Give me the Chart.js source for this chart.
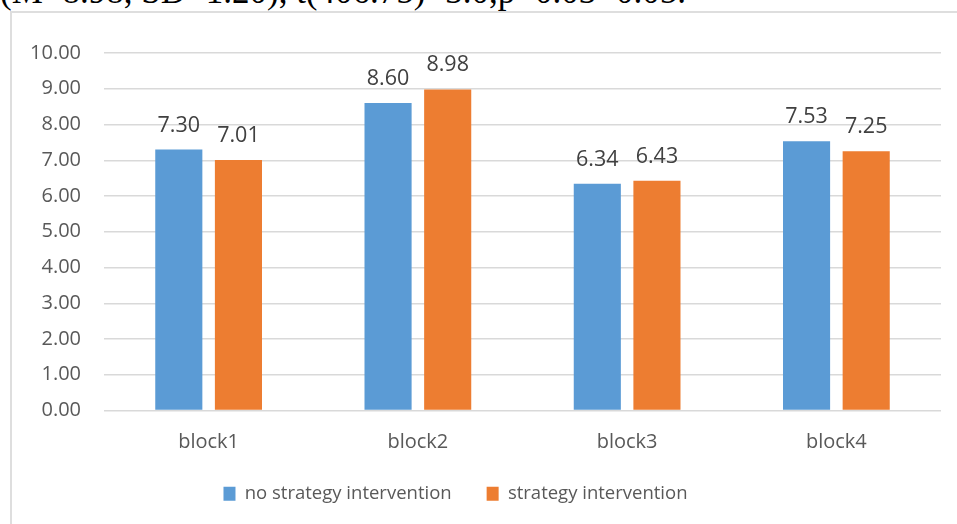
<!DOCTYPE html>
<html>
<head>
<meta charset="utf-8">
<script src="https://cdn.jsdelivr.net/npm/chart.js@4/dist/chart.umd.min.js"></script>
<style>
  html, body { margin: 0; padding: 0; background: #ffffff; }
  #page { position: relative; width: 957px; height: 524px; overflow: hidden; background: #ffffff; }
  #stat {
    position: absolute; left: 0; top: -26px; white-space: nowrap;
    font-family: "Liberation Serif", "Times New Roman", serif;
    font-size: 35px; line-height: 35px; color: #000000;
  }
  #frame {
    position: absolute; left: 10px; top: 11px; right: -4px; bottom: -4px;
    border-top: 2px solid #dedede; border-left: 2px solid #dedede;
  }
  #chart { position: absolute; left: 0; top: 0; }
</style>
</head>
<body>
<div id="page">
  <div id="stat">(M=8.98, SD=1.20), t(406.75)=3.0,p=0.03&lt;0.05.</div>
  <div id="frame"></div>
  <canvas id="chart" width="957" height="524"></canvas>
</div>
<script>
// Mean scores per block, with and without strategy intervention
const categories = ["block1", "block2", "block3", "block4"];
const seriesNames = ["no strategy intervention", "strategy intervention"];
const noStrategy = [7.30, 8.60, 6.34, 7.53];
const withStrategy = [7.01, 8.98, 6.43, 7.25];
const yTicks = [0, 1, 2, 3, 4, 5, 6, 7, 8, 9, 10];

const FONT = "'Open Sans', Lato, sans-serif";

// Writes each bar's value above it
const valueLabels = {
  id: "valueLabels",
  afterDatasetsDraw(chart) {
    const ctx = chart.ctx;
    ctx.save();
    ctx.font = "21.5px " + FONT;
    ctx.fillStyle = "#404040";
    ctx.textAlign = "center";
    ctx.textBaseline = "alphabetic";
    chart.data.datasets.forEach((ds, i) => {
      chart.getDatasetMeta(i).data.forEach((bar, j) => {
        ctx.fillText(ds.data[j].toFixed(2), bar.x, bar.y - 18);
      });
    });
    ctx.restore();
  }
};

// Centres the legend row a little left of the canvas middle
const legendShift = {
  id: "legendShift",
  afterLayout(chart) {
    const lg = chart.legend;
    const dx = 455.5 - (lg.left + lg.right) / 2;
    lg.left += dx;
    lg.right += dx;
  }
};

new Chart(document.getElementById("chart"), {
  type: "bar",
  data: {
    labels: categories,
    datasets: [
      { label: seriesNames[0], data: noStrategy, backgroundColor: "#5B9BD5" },
      { label: seriesNames[1], data: withStrategy, backgroundColor: "#ED7D31" }
    ]
  },
  options: {
    responsive: false,
    animation: false,
    devicePixelRatio: 1,
    categoryPercentage: 0.57,
    barPercentage: 0.79,
    layout: { padding: { top: 53, left: 10, right: 16, bottom: 11 } },
    plugins: {
      tooltip: { enabled: false },
      legend: {
        position: "bottom",
        labels: {
          boxWidth: 12,
          boxHeight: 14,
          padding: 35,
          color: "#595959",
          font: { family: FONT, size: 18.5 }
        }
      }
    },
    scales: {
      x: {
        grid: { display: false, drawTicks: false },
        border: { display: false },
        ticks: { color: "#595959", padding: 20, font: { family: FONT, size: 20 } },
        afterFit(scale) { scale.height = 39; }
      },
      y: {
        min: 0,
        max: 10,
        afterBuildTicks(scale) { scale.ticks = yTicks.map(v => ({ value: v })); },
        grid: { color: "#d9d9d9", lineWidth: 1.5, drawTicks: false },
        border: { display: false },
        ticks: {
          color: "#595959",
          padding: 23,
          font: { family: FONT, size: 20 },
          callback: v => Number(v).toFixed(2)
        },
        afterFit(scale) { scale.width = 94; }
      }
    }
  },
  plugins: [valueLabels, legendShift]
});
</script>
</body>
</html>
